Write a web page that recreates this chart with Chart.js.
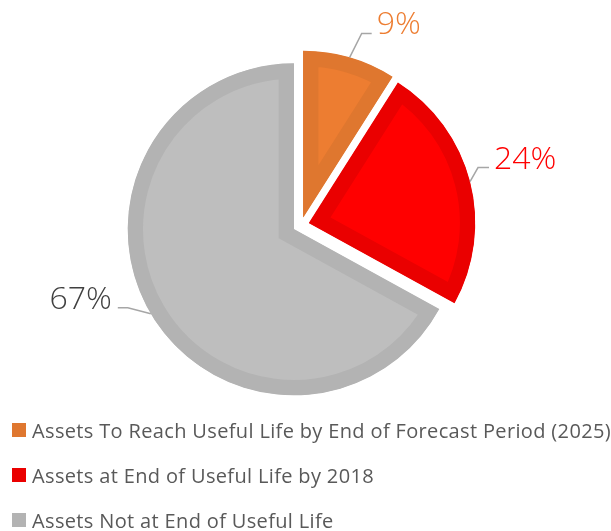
<!DOCTYPE html>
<html>
<head>
<meta charset="utf-8">
<script src="https://cdn.jsdelivr.net/npm/chart.js@4"></script>
<style>
  html, body { margin: 0; padding: 0; background: #fff; }
  #wrap { position: relative; width: 611px; height: 531px; }
  #legend { position: absolute; left: 12px; top: 0; font-family: 'Open Sans', sans-serif; font-size: 20px; letter-spacing: 0.35px; color: #595959; }
  .item { position: absolute; left: 0; height: 26px; white-space: nowrap; display: flex; align-items: center; }
  .box { width: 14px; height: 14px; margin-right: 6px; flex: none; }
</style>
</head>
<body>
<div id="wrap">
  <canvas id="pieChart" width="611" height="531"></canvas>
  <div id="legend"></div>
</div>
<script>
// Chart data
const categories = [
    'Assets To Reach Useful Life by End of Forecast Period (2025)',
    'Assets at End of Useful Life by 2018',
    'Assets Not at End of Useful Life'
];
const shares = [9, 24, 67];

// Styling
const fillColors = ['#ED7D31', '#FF0000', '#BEBEBE'];
const bandColors = ['#DF772F', '#EA0000', '#B3B3B3'];
const labelColors = ['#ED7D31', '#FF0000', '#404040'];
const pieRadius = 166;
const explode = 8.5;

// leader line: elbow offset from the slice edge, then a short horizontal run
const leaderLayout = [
    { elbow: [12, -24], run: 10 },
    { elbow: [8, -14], run: 11 },
    { elbow: [-23, -6], run: -10 }
];

// Push every slice out from the centre along its middle angle
const explodeSlices = {
    id: 'explodeSlices',
    beforeDatasetDraw(chart) {
        const area = chart.chartArea;
        const cx = (area.left + area.right) / 2;
        const cy = (area.top + area.bottom) / 2;
        chart.getDatasetMeta(0).data.forEach(arc => {
            const mid = (arc.startAngle + arc.endAngle) / 2;
            arc.x = cx + Math.cos(mid) * explode;
            arc.y = cy + Math.sin(mid) * explode;
        });
    }
};

// Percent labels with leader lines
const leaderLabels = {
    id: 'leaderLabels',
    afterDatasetDraw(chart) {
        const ctx = chart.ctx;
        const total = shares.reduce((a, b) => a + b, 0);
        chart.getDatasetMeta(0).data.forEach((arc, i) => {
            const mid = (arc.startAngle + arc.endAngle) / 2;
            const x0 = arc.x + Math.cos(mid) * arc.outerRadius;
            const y0 = arc.y + Math.sin(mid) * arc.outerRadius;
            const lay = leaderLayout[i];
            const x1 = x0 + lay.elbow[0];
            const y1 = y0 + lay.elbow[1];
            const x2 = x1 + lay.run;

            ctx.save();
            ctx.strokeStyle = '#A6A6A6';
            ctx.lineWidth = 1.5;
            ctx.beginPath();
            ctx.moveTo(x0, y0);
            ctx.lineTo(x1, y1);
            ctx.lineTo(x2, y1);
            ctx.stroke();

            ctx.fillStyle = labelColors[i];
            ctx.font = '300 32px "Open Sans", sans-serif';
            ctx.textBaseline = 'alphabetic';
            const text = Math.round(shares[i] / total * 100) + '%';
            if (lay.run >= 0) {
                ctx.textAlign = 'left';
                ctx.fillText(text, x2 + 5, y1 + 1);
            } else {
                ctx.textAlign = 'right';
                ctx.fillText(text, x2 - 6, y1 + 1);
            }
            ctx.restore();
        });
    }
};

const ctx = document.getElementById('pieChart').getContext('2d');
const pieChart = new Chart(ctx, {
    type: 'pie',
    data: {
        labels: categories,
        datasets: [{
            data: shares,
            backgroundColor: fillColors,
            borderColor: bandColors,
            borderWidth: 15,
            borderAlign: 'inner',
            borderJoinStyle: 'miter',
            radius: pieRadius
        }]
    },
    options: {
        responsive: false,
        animation: false,
        events: [],
        layout: {
            padding: { left: 0, right: 9, top: 0, bottom: 81 }
        },
        plugins: {
            legend: { display: false },
            tooltip: { enabled: false }
        }
    },
    plugins: [explodeSlices, leaderLabels]
});

// Legend below the pie
const legendTops = [417, 462, 507];
const legend = document.getElementById('legend');
categories.forEach((name, i) => {
    const item = document.createElement('div');
    item.className = 'item';
    item.style.top = legendTops[i] + 'px';
    item.innerHTML = `<span class="box" style="background:${bandColors[i]}"></span><span>${name}</span>`;
    legend.appendChild(item);
});
</script>
</body>
</html>
